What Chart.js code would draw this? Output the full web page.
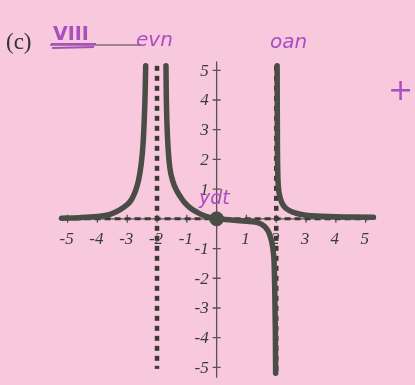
<!DOCTYPE html>
<html>
<head>
<meta charset="utf-8">
<script src="https://cdn.jsdelivr.net/npm/chart.js@4.4.1/dist/chart.umd.min.js"></script>
<style>
  html, body { margin: 0; padding: 0; background: #f8c8dc; }
  #wrap { width: 415px; height: 385px; position: relative; }
</style>
</head>
<body>
<div id="wrap"><canvas id="graph"></canvas></div>
<script>
// branches of the rational function as [x, y]
const outerLeft = [
  [-5.2, 0.02], [-4.6, 0.04], [-4.0, 0.08], [-3.6, 0.14], [-3.25, 0.3], [-3.0, 0.48],
  [-2.85, 0.66], [-2.72, 0.95], [-2.62, 1.3], [-2.53, 1.85], [-2.47, 2.5], [-2.43, 3.3],
  [-2.40, 4.2], [-2.38, 5.15]
];
const innerLeft = [
  [-1.70, 5.15], [-1.69, 4.2], [-1.67, 3.3], [-1.63, 2.4], [-1.57, 1.72], [-1.48, 1.3],
  [-1.35, 0.97], [-1.2, 0.72], [-1.05, 0.52], [-0.85, 0.34], [-0.65, 0.22], [-0.45, 0.12],
  [-0.23, 0.05], [0, 0]
];
const innerRight = [
  [0, 0], [0.6, -0.05], [1.0, -0.08], [1.3, -0.11], [1.5, -0.18], [1.65, -0.3],
  [1.76, -0.48], [1.84, -0.74], [1.9, -1.1], [1.93, -1.5], [1.95, -2.4], [1.97, -3.8],
  [1.98, -5.2]
];
const outerRight = [
  [2.03, 5.15], [2.035, 3.5], [2.04, 2.4], [2.05, 1.6], [2.07, 1.1], [2.11, 0.8],
  [2.19, 0.54], [2.3, 0.38], [2.46, 0.27], [2.7, 0.18], [3.0, 0.12], [3.5, 0.09],
  [4.0, 0.07], [4.6, 0.06], [5.26, 0.05]
];
const intercept = [[0, 0]];

// asymptotes x = -2, x = 2, y = 0
const asymLeft = [[-2, 5.15], [-2, -5.05]];
const asymRight = [[2, 5.15], [2, -5.2]];
const asymHoriz = [[-5.1, 0], [5.1, 0]];

const xTicks = [-5, -4, -3, -2, -1, 1, 2, 3, 4, 5];
const yTicks = [-5, -4, -3, -2, -1, 1, 2, 3, 4, 5];

const curveColor = '#4a4d45';
const dashColor = '#3b3b36';
const ink = '#aa4ec0';

function pts(arr) {
  return arr.map(p => ({ x: p[0], y: p[1] }));
}

function curve(arr) {
  return {
    data: pts(arr),
    showLine: true,
    borderColor: curveColor,
    borderWidth: 5.5,
    borderCapStyle: 'round',
    cubicInterpolationMode: 'monotone',
    pointRadius: 0,
    order: 1
  };
}

function dashed(arr, width, dash) {
  return {
    data: pts(arr),
    showLine: true,
    borderColor: dashColor,
    borderWidth: width,
    borderDash: dash,
    pointRadius: 0,
    order: 2
  };
}

// axes through the origin, with ticks and italic labels
const axesPlugin = {
  id: 'centerAxes',
  beforeDatasetsDraw(chart) {
    const { ctx, scales: { x, y } } = chart;
    const x0 = x.getPixelForValue(0);
    const y0 = y.getPixelForValue(0);
    ctx.save();
    ctx.strokeStyle = '#555550';
    ctx.lineWidth = 1.3;
    ctx.beginPath();
    ctx.moveTo(x0, y.getPixelForValue(5.3));
    ctx.lineTo(x0, y.getPixelForValue(-5.35));
    ctx.moveTo(x.getPixelForValue(-5.3), y0);
    ctx.lineTo(x.getPixelForValue(5.3), y0);
    yTicks.forEach(v => {
      const py = y.getPixelForValue(v);
      ctx.moveTo(x0 - 4, py);
      ctx.lineTo(x0 + 4, py);
    });
    xTicks.forEach(v => {
      const px = x.getPixelForValue(v);
      ctx.moveTo(px, y0 - 4);
      ctx.lineTo(px, y0 + 4);
    });
    ctx.stroke();

    ctx.fillStyle = '#3a3a38';
    ctx.font = 'italic 17px "Liberation Serif"';
    ctx.textAlign = 'right';
    ctx.textBaseline = 'middle';
    yTicks.forEach(v => {
      ctx.fillText(String(v), x0 - 8, y.getPixelForValue(v) + 1);
    });
    ctx.textAlign = 'center';
    xTicks.forEach(v => {
      ctx.fillText(String(v), x.getPixelForValue(v) - 1, y0 + 21);
    });
    ctx.restore();
  },
  afterDraw(chart) {
    const { ctx } = chart;
    ctx.save();
    ctx.fillStyle = '#333333';
    ctx.font = '23px "Liberation Serif"';
    ctx.textBaseline = 'alphabetic';
    ctx.fillText('(c)', 6, 49);

    ctx.strokeStyle = '#444444';
    ctx.lineWidth = 1.2;
    ctx.beginPath();
    ctx.moveTo(50, 45);
    ctx.lineTo(140, 45);
    ctx.stroke();

    ctx.fillStyle = ink;
    ctx.strokeStyle = ink;
    ctx.font = 'bold 19px "DejaVu Sans"';
    ctx.fillText('VIII', 53, 40);
    ctx.lineWidth = 2;
    ctx.beginPath();
    ctx.moveTo(51, 44);
    ctx.lineTo(96, 44);
    ctx.moveTo(52, 48);
    ctx.lineTo(94, 47);
    ctx.stroke();

    ctx.font = 'italic 20px "DejaVu Sans"';
    ctx.fillText('evn', 136, 46);
    ctx.fillText('oan', 270, 48);
    ctx.font = '30px "DejaVu Sans"';
    ctx.fillText('+', 388, 100);
    ctx.font = 'italic 19px "DejaVu Sans"';
    ctx.fillText('ydt', 199, 204);
    ctx.restore();
  }
};

// value ranges chosen so 1 unit = 31px with the origin at (217, 220)
const xMin = -7, xMax = 6.387;
const yMin = -5.323, yMax = 7.097;

new Chart(document.getElementById('graph'), {
  type: 'scatter',
  data: {
    datasets: [
      curve(outerLeft),
      curve(innerLeft),
      curve(innerRight),
      curve(outerRight),
      {
        data: pts(intercept),
        pointRadius: 7,
        pointBackgroundColor: curveColor,
        pointBorderColor: curveColor,
        order: 0
      },
      dashed(asymLeft, 4.5, [5, 5]),
      dashed(asymRight, 4.5, [5, 5]),
      dashed(asymHoriz, 3, [6, 4])
    ]
  },
  options: {
    responsive: true,
    maintainAspectRatio: false,
    animation: false,
    events: [],
    layout: { padding: 0 },
    plugins: { legend: { display: false }, tooltip: { enabled: false } },
    scales: {
      x: { type: 'linear', min: xMin, max: xMax, display: false },
      y: { type: 'linear', min: yMin, max: yMax, display: false }
    }
  },
  plugins: [axesPlugin]
});
</script>
</body>
</html>
